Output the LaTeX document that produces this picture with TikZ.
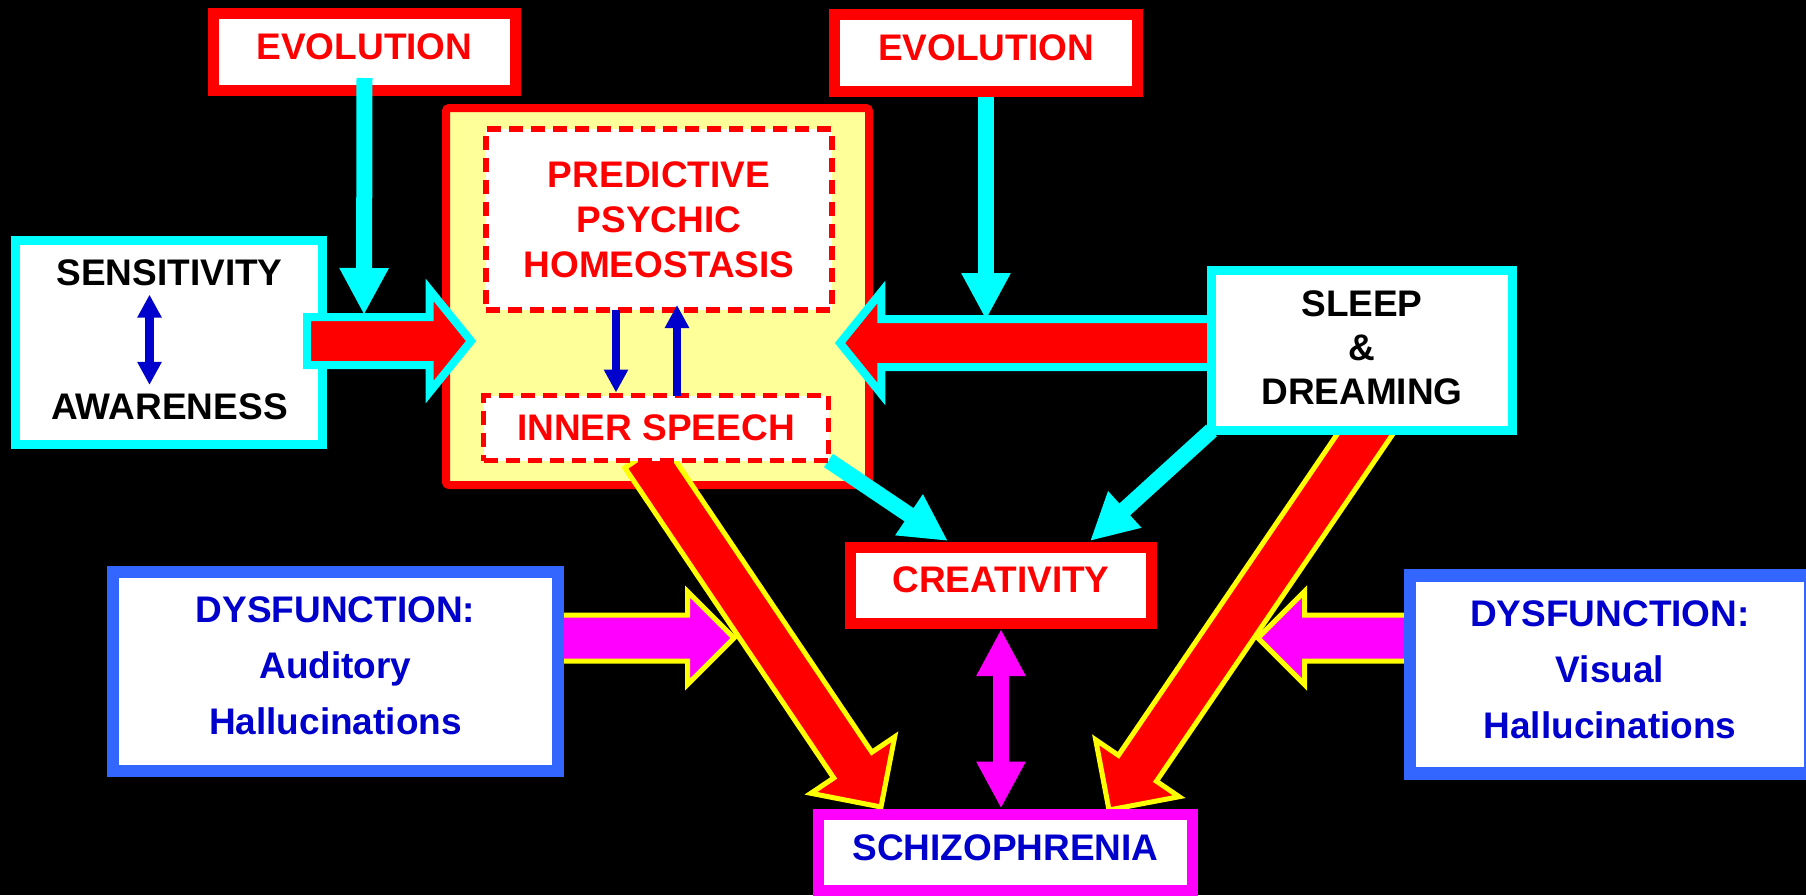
\documentclass[tikz,border=0pt]{standalone}
\usepackage{fontspec}
\setmainfont{Liberation Sans}
\usetikzlibrary{calc,arrows.meta,shapes.arrows}
\pgfdeclarelayer{bg}
\pgfdeclarelayer{mid}
\pgfsetlayers{bg,mid,main}

\definecolor{aqua}{RGB}{0,255,255}
\definecolor{pinkish}{RGB}{255,0,255}
\definecolor{yel}{RGB}{255,255,0}
\definecolor{pale}{RGB}{255,255,153}
\definecolor{dkblue}{RGB}{0,0,204}
\definecolor{boxblue}{RGB}{51,102,255}

% extra depth under the last line, lifts the text a little
\newcommand{\lowpad}[1]{\rule[-#1]{0pt}{#1}}

% block arrow from one point to another
\newcommand{\bigarrow}[4]{%
  \path let \p1=(#2), \p2=(#3), \n1={atan2(\y2-\y1,\x2-\x1)}, \n2={veclen(\x2-\x1,\y2-\y1)} in
    node[#1, rotate=\n1, minimum height=\n2, anchor=tail] (#4) at (\p1) {};}

\tikzset{
  lbl/.style={font=\bfseries\fontsize{18.5}{22.5}\selectfont, align=center, inner sep=0pt, outer sep=0pt},
  box/.style={lbl, rectangle, fill=white},
  redbox/.style={box, draw=red, line width=5.5pt, text=red},
  dashbox/.style={box, draw=red, line width=2.6pt, dash pattern=on 7pt off 4pt, text=red},
  cyanbox/.style={box, draw=aqua, line width=4.5pt, text=black},
  bluebox/.style={box, draw=boxblue, line width=6.2pt, text=dkblue,
    font=\bfseries\fontsize{18.5}{28}\selectfont},
  fatarrow/.style={single arrow, inner sep=0pt, outer sep=0pt, minimum width=0pt},
  fatcyan/.style={fatarrow, draw=aqua, fill=red, line width=4pt, inner ysep=10pt,
    single arrow head extend=13.5pt, single arrow tip angle=102},
  fatred/.style={fatarrow, draw=yel, fill=red, line width=2.5pt, inner ysep=10.25pt,
    single arrow head extend=13.75pt, single arrow tip angle=90},
  fatpink/.style={fatarrow, draw=yel, fill=pinkish, line width=2.5pt, inner ysep=10.25pt,
    single arrow head extend=11.75pt, single arrow tip angle=90},
  cyanarr/.style={draw=aqua, line width=8pt, -{Triangle[width=23pt,length=23.5pt]}},
  pinkdbl/.style={draw=pinkish, line width=8pt,
    {Triangle[width=23pt,length=23.5pt]}-{Triangle[width=23pt,length=23.5pt]}},
  bluearr/.style={draw=dkblue, line width=4.2pt, -{Triangle[width=11.5pt,length=11.5pt]}},
  bluedbl/.style={draw=dkblue, line width=4.2pt,
    {Triangle[width=11.5pt,length=11.5pt]}-{Triangle[width=11.5pt,length=11.5pt]}}
}

\begin{document}
\begin{tikzpicture}[x=0.5pt,y=-0.5pt]
\useasboundingbox (0,0) rectangle (1806,895);

\begin{pgfonlayer}{bg}
\fill[black] (0,0) rectangle (1806,895);
\node[rectangle, draw=red, line width=4pt, fill=pale, rounded corners=1.5pt,
  minimum width=211.5pt, minimum height=188.5pt] (main) at (657.5,296.5) {};
\node[cyanbox, minimum width=153.5pt, minimum height=102pt] (sens) at (169,342.5) {};
\end{pgfonlayer}

% boxes
\node[redbox, minimum width=151pt, minimum height=38.5pt] (evoL) at (364.5,52) {EVOLUTION\lowpad{5pt}};
\node[redbox, minimum width=151.5pt, minimum height=38.5pt] (evoR) at (986,53) {EVOLUTION\lowpad{5pt}};
\node[dashbox, minimum width=173pt, minimum height=90.5pt] (pred) at (659,219.5)
  {PREDICTIVE\\PSYCHIC\\HOMEOSTASIS};
\node[dashbox, minimum width=172.5pt, minimum height=32.5pt] (inner) at (656,428) {INNER SPEECH};
\node[lbl, inner sep=4.5pt] (sensT) at (169.5,272.5) {SENSITIVITY};
\node[lbl, inner sep=4.5pt] (awareT) at (169.5,407) {AWARENESS};
\node[cyanbox, minimum width=150.5pt, minimum height=80pt,
  font=\bfseries\fontsize{18.5}{22}\selectfont] (sleep) at (1362,350.5)
  {SLEEP\\\&\\DREAMING\lowpad{3pt}};
\node[redbox, minimum width=150.5pt, minimum height=38pt] (creat) at (1001,585) {CREATIVITY\lowpad{5pt}};
\node[box, draw=pinkish, line width=5.5pt, text=dkblue, minimum width=187pt, minimum height=38pt]
  (schizo) at (1005.5,852.5) {SCHIZOPHRENIA\lowpad{4.5pt}};
\node[bluebox, minimum width=222.5pt, minimum height=99.5pt] (aud) at (335.5,671.5)
  {DYSFUNCTION:\\Auditory\\Hallucinations\lowpad{5.5pt}};
\node[bluebox, minimum width=200pt, minimum height=99pt] (vis) at (1610,674.5)
  {DYSFUNCTION:\\Visual\\Hallucinations\lowpad{5pt}};

% arrow ends
\coordinate (evoLout) at ([yshift=6.25pt]evoL.south);
\coordinate (evoLtip) at (364,315);
\coordinate (evoRtip) at (986,320);
\coordinate (creatInL) at (948,541);
\coordinate (creatInR) at (1090,541);
\coordinate (sensOut) at (307,341);
\coordinate (mainInL) at (471,341);
\coordinate (sleepOut) at (1215,343);
\coordinate (mainInR) at (840,343);
\coordinate (speechOut) at (644,455);
\coordinate (schizoInL) at (881,807);
\coordinate (dreamOut) at (1376,418);
\coordinate (schizoInR) at (1109,810);
\coordinate (audOut) at (558,638);
\coordinate (audTip) at (734,638);
\coordinate (visOut) at (1410,638);
\coordinate (visTip) at (1258,638);

\begin{pgfonlayer}{mid}
\draw[cyanarr] (evoR) -- (evoRtip);
\bigarrow{fatcyan}{sensOut}{mainInL}{sensArr}
\bigarrow{fatcyan}{sleepOut}{mainInR}{sleepArr}
\draw[cyanarr] (inner.south east) -- (creatInL);
\draw[cyanarr] (sleep.south west) -- (creatInR);
\bigarrow{fatpink}{audOut}{audTip}{audArr}
\bigarrow{fatpink}{visOut}{visTip}{visArr}
\bigarrow{fatred}{speechOut}{schizoInL}{speechArr}
\bigarrow{fatred}{dreamOut}{schizoInR}{dreamArr}
\draw[pinkdbl, shorten <=3pt, shorten >=3pt] (creat.south) -- (creat.south |- schizo.north);
\end{pgfonlayer}

% small arrows
\draw[cyanarr] (evoLout) -- (evoLtip);
\coordinate (dnA) at ([xshift=-21.5pt]pred.south);
\coordinate (upA) at ([xshift=10.5pt]inner.north);
\draw[bluearr, shorten >=1.5pt] (dnA) -- (dnA |- inner.north);
\draw[bluearr, shorten >=-2.5pt] (upA) -- (upA |- pred.south);
\draw[bluedbl] ([xshift=-10pt]sensT.south) -- ([xshift=-10pt]awareT.north);
\end{tikzpicture}
\end{document}
